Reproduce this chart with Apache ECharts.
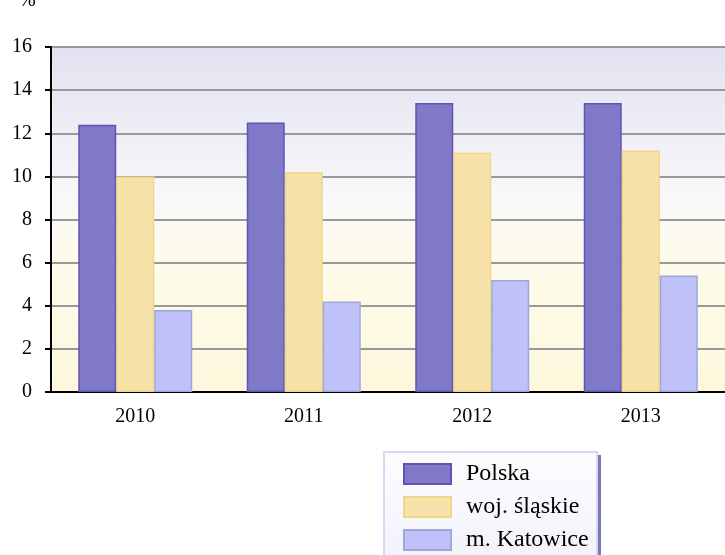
<!DOCTYPE html>
<html lang="pl">
<head>
<meta charset="utf-8">
<title>Wykres</title>
<script src="https://cdn.jsdelivr.net/npm/echarts@6/dist/echarts.min.js"></script>
<style>
  html, body { margin: 0; padding: 0; background: #fff; }
  #chart { width: 725px; height: 555px; }
</style>
</head>
<body>
<div id="chart"></div>
<script>
var years = ['2010', '2011', '2012', '2013'];
var polska = [12.4, 12.5, 13.4, 13.4];
var slaskie = [10.0, 10.2, 11.1, 11.2];
var katowice = [3.8, 4.2, 5.2, 5.4];
var seriesNames = ['Polska', 'woj. śląskie', 'm. Katowice'];

var serif = '"Liberation Serif", "Times New Roman", serif';
var chart = echarts.init(document.getElementById('chart'));

function bar(name, data, fill, border) {
  return {
    name: name,
    type: 'bar',
    data: data,
    barWidth: 38,
    barGap: '0%',
    itemStyle: { color: fill, borderColor: border, borderWidth: 1.5 }
  };
}

var option = {
  animation: false,
  title: {
    text: '%', left: 14, top: -14,
    textStyle: { fontFamily: serif, fontSize: 20, fontWeight: 'normal', color: '#000' }
  },
  grid: {
    left: 51, top: 47, width: 680, height: 345,
    show: true, borderWidth: 0,
    backgroundColor: new echarts.graphic.LinearGradient(0, 0, 0, 1, [
      { offset: 0, color: '#e2e2f0' },
      { offset: 0.45, color: '#f9f8fa' },
      { offset: 0.6, color: '#fefbec' },
      { offset: 1, color: '#fdf8dc' }
    ])
  },
  // ramka legendy z cieniem (wychodzi poza dol obrazka)
  graphic: [{
    type: 'rect', z: 0,
    shape: { x: 387, y: 455, width: 214, height: 120 },
    style: { fill: '#7a7ab0' }
  }, {
    type: 'rect', z: 1,
    shape: { x: 384, y: 452, width: 213, height: 120 },
    style: {
      fill: new echarts.graphic.LinearGradient(0, 0, 0, 1, [
        { offset: 0, color: '#fdfdff' },
        { offset: 1, color: '#f1f1fb' }
      ]),
      stroke: '#d6d6f8', lineWidth: 2
    }
  }],
  legend: {
    data: seriesNames,
    orient: 'vertical',
    left: 403, top: 462, height: 150,
    padding: 0,
    itemWidth: 47, itemHeight: 20, itemGap: 9,
    icon: 'rect',
    textStyle: { fontFamily: serif, fontSize: 24, lineHeight: 20, color: '#000', padding: [0, 0, 0, 10] }
  },
  xAxis: {
    type: 'category',
    data: years,
    axisLine: { lineStyle: { color: '#000', width: 2 } },
    axisTick: { show: false },
    axisLabel: { fontFamily: serif, fontSize: 20, color: '#000', margin: 15 }
  },
  yAxis: {
    type: 'value',
    min: 0, max: 16, interval: 2,
    axisLine: { show: true, lineStyle: { color: '#000', width: 2 } },
    axisTick: { show: true, length: 6, lineStyle: { color: '#000', width: 2 } },
    axisLabel: { fontFamily: serif, fontSize: 20, color: '#000', margin: 19 },
    splitLine: { lineStyle: { color: '#999', width: 2 } }
  },
  series: [
    bar(seriesNames[0], polska, '#8079c7', '#5d55b3'),
    bar(seriesNames[1], slaskie, '#f7e3a9', '#f0d68c'),
    bar(seriesNames[2], katowice, '#bfc1f8', '#9ba8da')
  ]
};
chart.setOption(option);
</script>
</body>
</html>
